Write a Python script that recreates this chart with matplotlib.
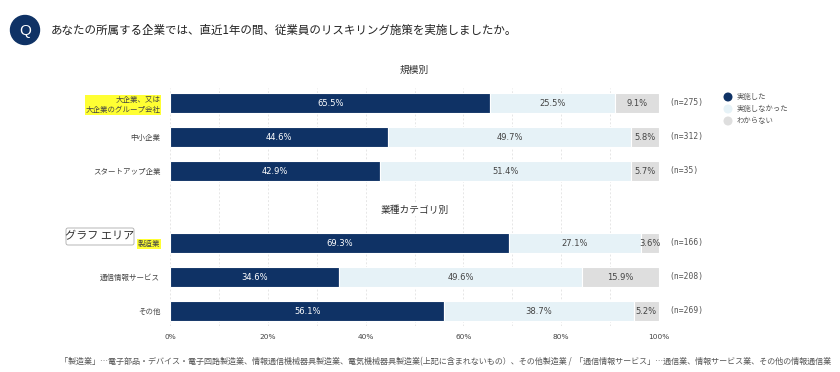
import numpy as np
import matplotlib
matplotlib.use("Agg")
import matplotlib.pyplot as plt
from matplotlib.patches import Circle, FancyBboxPatch

plt.rcParams['font.family'] = ['Noto Sans CJK JP', 'DejaVu Sans']

# data
title = "あなたの所属する企業では、直近1年の間、従業員のリスキリング施策を実施しましたか。"
series_names = ["実施した", "実施しなかった", "わからない"]
colors = ["#0f3265", "#e6f2f7", "#dedede"]
txt_colors = ["white", "#444444", "#444444"]

group1_title = "規模別"
group1_cats = ["大企業、又は\n大企業のグループ会社", "中小企業", "スタートアップ企業"]
group1_did = [65.5, 44.6, 42.9]
group1_didnt = [25.5, 49.7, 51.4]
group1_unknown = [9.1, 5.8, 5.7]
group1_n = [275, 312, 35]

group2_title = "業種カテゴリ別"
group2_cats = ["製造業", "通信情報サービス", "その他"]
group2_did = [69.3, 34.6, 56.1]
group2_didnt = [27.1, 49.6, 38.7]
group2_unknown = [3.6, 15.9, 5.2]
group2_n = [166, 208, 269]

xticks = [0, 20, 40, 60, 80, 100]
footnote = ("「製造業」…電子部品・デバイス・電子回路製造業、情報通信機械器具製造業、電気機械器具製造業(上記に含まれないもの）、その他製造業 /  "
            "「通信情報サービス」…通信業、情報サービス業、その他の情報通信業")

W, H = 840, 372
fig = plt.figure(figsize=(W / 100, H / 100), dpi=100)

# question header
hdr = fig.add_axes([0, 0, 1, 1])
hdr.set_xlim(0, W)
hdr.set_ylim(H, 0)
hdr.axis("off")
hdr.add_patch(Circle((25, 30), 14.5, color="#0f3265"))
hdr.text(25, 30.5, "Q", color="white", fontsize=11, ha="center", va="center",
         family=["Liberation Sans", "DejaVu Sans"])
hdr.text(51, 30, title, fontsize=8.3, ha="left", va="center", color="#222222")
hdr.text(60, 362, footnote, fontsize=5.8, ha="left", va="center", color="#555555")

# legend
for i, (nm, c) in enumerate(zip(series_names, colors)):
    y = 97 + i * 12
    hdr.add_patch(Circle((728, y), 3.8, color=c))
    hdr.text(737, y, nm, fontsize=5.3, ha="left", va="center", color="#555555")

# main chart
ax = fig.add_axes([170 / W, 1 - 326 / H, (659 - 170) / W, (326 - 88) / H])
ax.set_xlim(0, 100)
ax.set_ylim(326, 88)

pos1 = [103, 137, 171]
pos2 = [243, 277, 311]
bar_h = 20

def draw_group(pos, cats, did, didnt, unk, ns):
    left = np.zeros(len(pos))
    for vals, c, tc in zip([did, didnt, unk], colors, txt_colors):
        vals = np.array(vals)
        ax.barh(pos, vals, left=left, height=bar_h, color=c,
                edgecolor="white", linewidth=0.8, zorder=2)
        for p, l, v in zip(pos, left, vals):
            ax.text(l + v / 2, p, f"{v:.1f}%", ha="center", va="center",
                    fontsize=6, color=tc, zorder=3, family=["DejaVu Sans"])
        left = left + vals
    for p, n in zip(pos, ns):
        ax.text(102.2, p, f"(n={n})", ha="left", va="center", fontsize=5.8,
                color="#555555", clip_on=False, family=["DejaVu Sans Mono"])

draw_group(pos1, group1_cats, group1_did, group1_didnt, group1_unknown, group1_n)
draw_group(pos2, group2_cats, group2_did, group2_didnt, group2_unknown, group2_n)

ax.set_yticks(pos1 + pos2)
ax.set_yticklabels(group1_cats + group2_cats, fontsize=5.4, color="#444444",
                   linespacing=1.4)
for lbl in ax.get_yticklabels():
    if lbl.get_text() in ("大企業、又は\n大企業のグループ会社", "製造業"):
        lbl.set_bbox(dict(facecolor="#ffff33", edgecolor="none", pad=0.5))
ax.tick_params(axis="y", length=0, pad=7)

ax.set_xticks(xticks)
ax.set_xticklabels([f"{t}%" for t in xticks], fontsize=5.3, color="#444444",
                   family=["DejaVu Sans"])
ax.tick_params(axis="x", length=0, pad=6)

ax.set_xticks(np.arange(0, 101, 10), minor=True)
ax.grid(True, axis="x", which="both", color="#e6e6e6", linestyle=(0, (2, 2)),
        linewidth=0.7, zorder=0)
ax.tick_params(axis="x", which="minor", length=0)
for s in ax.spines.values():
    s.set_visible(False)

ax.text(50, 70, group1_title, ha="center", va="center", fontsize=7,
        color="#333333", clip_on=False)
ax.text(50, 210, group2_title, ha="center", va="center", fontsize=7,
        color="#333333", bbox=dict(facecolor="white", edgecolor="none", pad=1))

# tooltip overlay from the screenshot
hdr.add_patch(FancyBboxPatch((66, 228), 68, 17, boxstyle="round,pad=0,rounding_size=2",
                             facecolor="white", edgecolor="#aaaaaa", linewidth=0.6,
                             zorder=5))
hdr.text(100, 236.5, "グラフ エリア", fontsize=8, ha="center", va="center",
         color="#333333", zorder=6)

fig.savefig("out.png", dpi=100)
